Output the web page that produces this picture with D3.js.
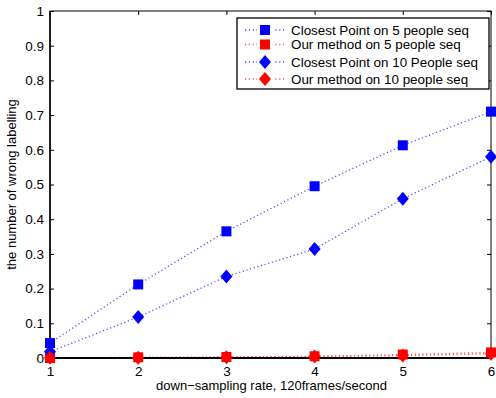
<!DOCTYPE html>
<html><head><meta charset="utf-8">
<script src="https://cdn.jsdelivr.net/npm/d3@7"></script>
<style>body{margin:0;background:#fff}text{font-family:"Liberation Sans",Arial,sans-serif}</style>
</head><body><svg id="c" width="496" height="398"></svg>
<script>
const xValues = [1, 2, 3, 4, 5, 6];
const closest5 = [0.043, 0.212, 0.365, 0.495, 0.613, 0.71];
const ours5 = [0.0, 0.002, 0.003, 0.005, 0.01, 0.016];
const closest10 = [0.018, 0.118, 0.235, 0.314, 0.459, 0.58];
const ours10 = [0.001, 0.001, 0.002, 0.004, 0.007, 0.012];
const yTicks = [0, 0.1, 0.2, 0.3, 0.4, 0.5, 0.6, 0.7, 0.8, 0.9, 1];
const yTickLabels = ["0", "0.1", "0.2", "0.3", "0.4", "0.5", "0.6", "0.7", "0.8", "0.9", "1"];
const seriesNames = ["Closest Point on 5 people seq", "Our method on 5 people seq", "Closest Point on 10 People seq", "Our method on 10 people seq"];
const xLabel = "down\u2212sampling rate, 120frames/second";
const yLabel = "the number of wrong labelling";

const series = [
  {name: seriesNames[0], values: closest5, color: "#0000ff", line: "#5050ff", shape: "square"},
  {name: seriesNames[1], values: ours5, color: "#ff0000", line: "#ff5050", shape: "square"},
  {name: seriesNames[2], values: closest10, color: "#0000ff", line: "#5050ff", shape: "diamond"},
  {name: seriesNames[3], values: ours10, color: "#ff0000", line: "#ff5050", shape: "diamond"}
];

const svg = d3.select("#c");
const L = 50, R = 491, T = 11, B = 358;
const x = d3.scaleLinear().domain([1, 6]).range([L, R]);
const y = d3.scaleLinear().domain([0, 1]).range([B, T]);

const tl = 4;
const g = svg.append("g");
g.append("g").attr("transform", `translate(0,${B})`)
  .call(d3.axisBottom(x).tickValues(xValues).tickSizeInner(-tl).tickSizeOuter(0).tickPadding(8).tickFormat(d3.format("d")));
g.append("g").attr("transform", `translate(${L},0)`)
  .call(d3.axisLeft(y).tickValues(yTicks).tickSizeInner(-tl).tickSizeOuter(0).tickPadding(6).tickFormat((d, i) => yTickLabels[i]));
g.append("g").attr("transform", `translate(0,${T})`)
  .call(d3.axisTop(x).tickValues(xValues).tickSizeInner(-tl).tickSizeOuter(0).tickFormat(""));
g.append("g").attr("transform", `translate(${R},0)`)
  .call(d3.axisRight(y).tickValues(yTicks).tickSizeInner(-tl).tickSizeOuter(0).tickFormat(""));
g.selectAll(".domain").remove();
g.selectAll(".tick line").attr("stroke", "#000");
g.selectAll(".tick text").attr("font-size", 13.5).attr("fill", "#000").style("font-family", '"Liberation Sans",Arial,sans-serif');

svg.append("rect").attr("x", L).attr("y", T).attr("width", R - L).attr("height", B - T)
  .attr("fill", "none").attr("stroke", "#000").attr("stroke-width", 1);

function drawMarker(sel, s) {
  if (s.shape === "square") {
    sel.append("rect").attr("x", -5).attr("y", -5).attr("width", 10).attr("height", 10).attr("fill", s.color);
  } else {
    sel.append("path").attr("d", "M0,-7L6,0L0,7L-6,0Z").attr("fill", s.color);
  }
}

const line = d3.line().x((d, i) => x(xValues[i])).y(d => y(d));
series.forEach(s => {
  svg.append("path").attr("d", line(s.values)).attr("fill", "none")
    .attr("stroke", s.line).attr("stroke-width", 1.3).attr("stroke-dasharray", "1.2,2.6");
});
svg.append("line").attr("x1", L).attr("x2", R).attr("y1", B).attr("y2", B).attr("stroke", "#000").attr("stroke-width", 2);
svg.append("line").attr("x1", L).attr("x2", L).attr("y1", T).attr("y2", B).attr("stroke", "#000").attr("stroke-width", 1.5);
series.forEach(s => {
  s.values.forEach((v, i) => {
    const m = svg.append("g").attr("transform", `translate(${x(xValues[i])},${y(v)})`);
    drawMarker(m, s);
  });
});

const lg = svg.append("g");
lg.append("rect").attr("x", 237).attr("y", 18).attr("width", 252).attr("height", 71)
  .attr("fill", "#fff").attr("stroke", "#000").attr("stroke-width", 1.3);
const rowY = [30, 44.5, 62, 79];
series.forEach((s, i) => {
  lg.append("line").attr("x1", 245).attr("x2", 284).attr("y1", rowY[i]).attr("y2", rowY[i])
    .attr("stroke", s.line).attr("stroke-width", 1.3).attr("stroke-dasharray", "1.2,2.6");
  const m = lg.append("g").attr("transform", `translate(265,${rowY[i]})`);
  m.append("rect").attr("x", -8).attr("y", -7).attr("width", 16).attr("height", 14).attr("fill", "#fff");
  drawMarker(m, s);
  lg.append("text").attr("x", 291).attr("y", rowY[i]).attr("dy", "0.35em")
    .attr("font-size", 13.4).attr("fill", "#000").text(s.name);
});

svg.append("text").attr("x", (L + R) / 2 + 1).attr("y", 390).attr("text-anchor", "middle")
  .attr("font-size", 13).text(xLabel);
svg.append("text").attr("transform", `translate(16,${(T + B) / 2}) rotate(-90)`).attr("text-anchor", "middle")
  .attr("font-size", 13).text(yLabel);
</script></body></html>
